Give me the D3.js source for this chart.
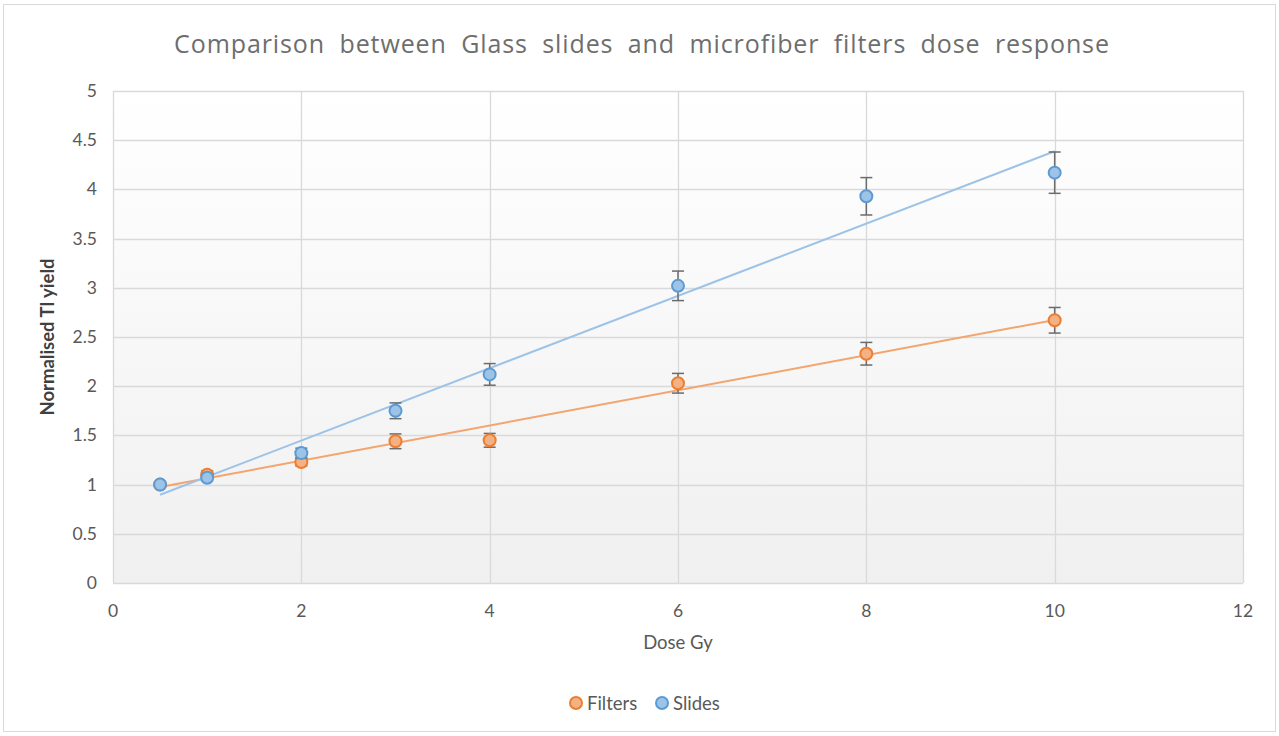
<!DOCTYPE html>
<html><head><meta charset="utf-8">
<script src="https://cdn.jsdelivr.net/npm/d3@7"></script>
<style>body{margin:0;background:#fff}svg{display:block}</style>
</head><body>
<svg id="c" width="1279" height="736"></svg>
<script>
const doses = [0.5, 1, 2, 3, 4, 6, 8, 10];
const filters = [1.0, 1.10, 1.23, 1.44, 1.45, 2.03, 2.33, 2.67];
const filtersErr = [0, 0.04, 0.04, 0.075, 0.07, 0.10, 0.115, 0.13];
const slides = [1.0, 1.07, 1.32, 1.75, 2.12, 3.02, 3.93, 4.17];
const slidesErr = [0, 0.03, 0.05, 0.08, 0.11, 0.15, 0.19, 0.21];
const xTicks = [0, 2, 4, 6, 8, 10, 12];
const yTicks = [0, 0.5, 1, 1.5, 2, 2.5, 3, 3.5, 4, 4.5, 5];
const seriesNames = ["Filters", "Slides"];

const svg = d3.select("#c");
const font = "Lato, 'Open Sans', sans-serif";
const L = 113, R = 1243, T = 91, B = 583;
const x = d3.scaleLinear().domain([0, 12]).range([L, R]);
const y = d3.scaleLinear().domain([0, 5]).range([B, T]);

svg.append("rect").attr("x", 3.5).attr("y", 4.5).attr("width", 1272).attr("height", 727)
  .attr("fill", "#fff").attr("stroke", "#d9d9d9");

const defs = svg.append("defs");
const g = defs.append("linearGradient").attr("id", "bg").attr("x1", 0).attr("y1", 0).attr("x2", 0).attr("y2", 1);
g.append("stop").attr("offset", "0").attr("stop-color", "#ffffff");
g.append("stop").attr("offset", "1").attr("stop-color", "#f0f0f0");
svg.append("rect").attr("x", L).attr("y", T).attr("width", R - L).attr("height", B - T).attr("fill", "url(#bg)");

// gridlines
svg.append("g").selectAll("line").data(yTicks).join("line")
  .attr("x1", L).attr("x2", R).attr("y1", d => Math.round(y(d)) + 0.5).attr("y2", d => Math.round(y(d)) + 0.5)
  .attr("stroke", "#d9d9d9").attr("stroke-width", 1.3);
svg.append("g").selectAll("line").data(xTicks).join("line")
  .attr("y1", T).attr("y2", B).attr("x1", d => Math.round(x(d)) + 0.5).attr("x2", d => Math.round(x(d)) + 0.5)
  .attr("stroke", "#d9d9d9").attr("stroke-width", 1.3);

// tick labels
svg.append("g").selectAll("text").data(yTicks).join("text")
  .attr("x", 97).attr("y", d => y(d) + 6).attr("text-anchor", "end")
  .attr("font-family", font).attr("font-size", 17.5).attr("fill", "#595959").text(d => d);
svg.append("g").selectAll("text").data(xTicks).join("text")
  .attr("x", d => x(d)).attr("y", 617).attr("text-anchor", "middle")
  .attr("font-family", font).attr("font-size", 17.5).attr("fill", "#595959").text(d => d);

// title
svg.append("text").attr("x", 642).attr("y", 53).attr("text-anchor", "middle")
  .attr("font-family", "'Open Sans', sans-serif").attr("font-size", 25).attr("fill", "#6e6e6e")
  .attr("letter-spacing", 0.9).attr("word-spacing", 7)
  .text("Comparison between Glass slides and microfiber filters dose response");

// axis titles
svg.append("text").attr("x", (L + R) / 2).attr("y", 649).attr("text-anchor", "middle")
  .attr("font-family", font).attr("font-size", 18.5).attr("fill", "#595959").text("Dose Gy");
svg.append("text").attr("transform", `translate(54,${(T + B) / 2}) rotate(-90)`).attr("text-anchor", "middle")
  .attr("font-family", font).attr("font-size", 18.5).attr("font-weight", "bold").attr("fill", "#404040")
  .text("Normalised Tl yield");

const colors = [
  {fill: "#f4b183", stroke: "#ed7d31", line: "#f4a46e"},
  {fill: "#9dc3e6", stroke: "#5b9bd5", line: "#9dc3e6"}
];
const data = [filters, slides];
const errs = [filtersErr, slidesErr];

function fit(xs, ys) {
  const mx = d3.mean(xs), my = d3.mean(ys);
  const sxy = d3.sum(xs, (v, i) => (v - mx) * (ys[i] - my));
  const sxx = d3.sum(xs, v => (v - mx) * (v - mx));
  const m = sxy / sxx;
  return [m, my - m * mx];
}

data.forEach((ys, s) => {
  const [m, b] = fit(doses, ys);
  const x0 = d3.min(doses), x1 = d3.max(doses);
  svg.append("line").attr("x1", x(x0)).attr("y1", y(m * x0 + b)).attr("x2", x(x1)).attr("y2", y(m * x1 + b))
    .attr("stroke", colors[s].line).attr("stroke-width", 2);
});

data.forEach((ys, s) => {
  const gg = svg.append("g");
  doses.forEach((d, i) => {
    const e = errs[s][i];
    if (e > 0) {
      const cx = x(d);
      gg.append("line").attr("x1", cx).attr("x2", cx).attr("y1", y(ys[i] - e)).attr("y2", y(ys[i] + e))
        .attr("stroke", "#6b6b6b").attr("stroke-width", 1.5);
      [ys[i] - e, ys[i] + e].forEach(v => gg.append("line").attr("x1", cx - 6).attr("x2", cx + 6)
        .attr("y1", y(v)).attr("y2", y(v)).attr("stroke", "#6b6b6b").attr("stroke-width", 1.5));
    }
  });
  gg.selectAll("circle").data(ys).join("circle")
    .attr("cx", (v, i) => x(doses[i])).attr("cy", v => y(v)).attr("r", 6)
    .attr("fill", colors[s].fill).attr("stroke", colors[s].stroke).attr("stroke-width", 2);
});

// legend
const leg = svg.append("g");
const legX = [576, 662];
seriesNames.forEach((n, s) => {
  leg.append("circle").attr("cx", legX[s]).attr("cy", 703).attr("r", 6)
    .attr("fill", colors[s].fill).attr("stroke", colors[s].stroke).attr("stroke-width", 2);
  leg.append("text").attr("x", legX[s] + 11).attr("y", 709.5).attr("font-family", font).attr("font-size", 18.5)
    .attr("fill", "#595959").text(n);
});
</script>
</body></html>
